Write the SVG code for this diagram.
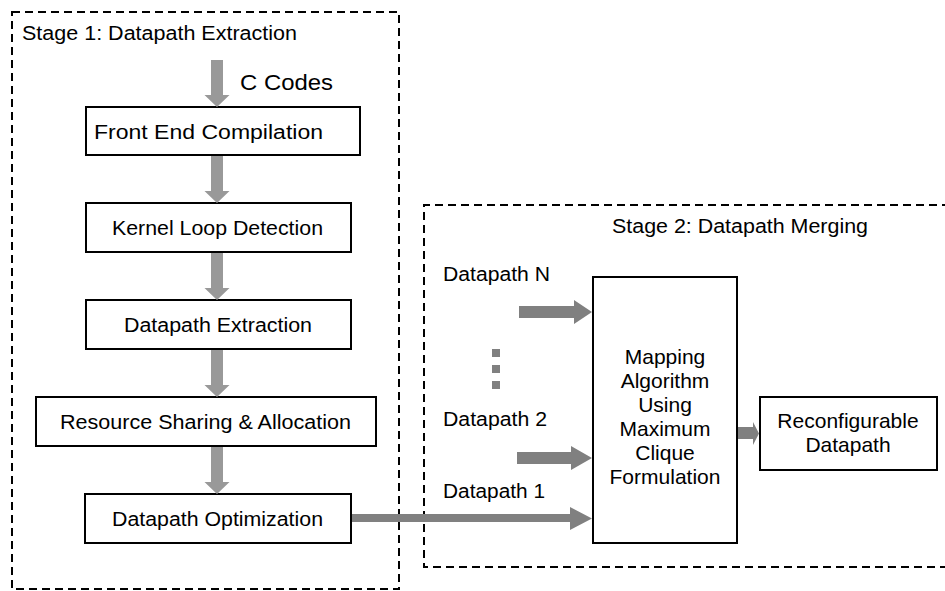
<svg xmlns="http://www.w3.org/2000/svg" width="945" height="591" viewBox="0 0 945 591">
<style>
.stage{fill:none;stroke:#000;stroke-width:2;stroke-dasharray:8 5}
.box{fill:#fff;stroke:#000;stroke-width:2}
.t{font-family:"Liberation Sans",Arial,sans-serif;font-size:20px;fill:#000}
.m{text-anchor:middle;font-size:21px}
.va{fill:#999}
.ha{fill:#808080}
</style>
<rect width="945" height="591" fill="#fff"/>
<g id="stage1">
<rect class="stage" x="12" y="12" width="387" height="577"/>
<text class="t" x="22" y="40" textLength="275" lengthAdjust="spacingAndGlyphs">Stage 1: Datapath Extraction</text>
<text class="t" x="240" y="90" style="font-size:22px" textLength="93" lengthAdjust="spacingAndGlyphs">C Codes</text>
</g>
<g id="stage2">
<path class="stage" d="M950 205 H424 V567 H950"/>
<text class="t" x="612" y="233" textLength="256" lengthAdjust="spacingAndGlyphs">Stage 2: Datapath Merging</text>
<text class="t" x="443" y="281" textLength="107" lengthAdjust="spacingAndGlyphs">Datapath N</text>
<text class="t" x="443" y="426" textLength="104" lengthAdjust="spacingAndGlyphs">Datapath 2</text>
<text class="t" x="443" y="498" textLength="102" lengthAdjust="spacingAndGlyphs">Datapath 1</text>
</g>
<g id="front-end">
<rect class="box" x="86" y="107" width="274" height="48"/>
<text class="t" x="94" y="139" textLength="229" lengthAdjust="spacingAndGlyphs">Front End Compilation</text>
</g>
<g id="kernel-loop">
<rect class="box" x="86" y="203" width="265" height="49"/>
<text class="t" x="112" y="235" textLength="211" lengthAdjust="spacingAndGlyphs">Kernel Loop Detection</text>
</g>
<g id="dp-extraction">
<rect class="box" x="86" y="300" width="265" height="49"/>
<text class="t" x="124" y="332" textLength="188" lengthAdjust="spacingAndGlyphs">Datapath Extraction</text>
</g>
<g id="resource">
<rect class="box" x="36" y="397" width="340" height="49"/>
<text class="t" x="60" y="429" textLength="291" lengthAdjust="spacingAndGlyphs">Resource Sharing &amp; Allocation</text>
</g>
<g id="dp-opt">
<rect class="box" x="85" y="494" width="266" height="49"/>
<text class="t" x="112" y="526" textLength="211" lengthAdjust="spacingAndGlyphs">Datapath Optimization</text>
</g>
<g id="mapping">
<rect class="box" x="593" y="277" width="144" height="266"/>
<text class="t m" x="665" y="364">Mapping</text>
<text class="t m" x="665" y="388">Algorithm</text>
<text class="t m" x="665" y="412">Using</text>
<text class="t m" x="665" y="436">Maximum</text>
<text class="t m" x="665" y="460">Clique</text>
<text class="t m" x="665" y="484">Formulation</text>
</g>
<g id="reconfigurable">
<rect class="box" x="760" y="397" width="177" height="73"/>
<text class="t m" x="848" y="428">Reconfigurable</text>
<text class="t m" x="848" y="452">Datapath</text>
</g>
<g id="connectors">
<polygon class="va" points="211,60 223,60 223,95 229.5,95 217,107 204.5,95 211,95"/>
<polygon class="va" points="211,156 223,156 223,191 229.5,191 217,203 204.5,191 211,191"/>
<polygon class="va" points="211,253 223,253 223,288 229.5,288 217,300 204.5,288 211,288"/>
<polygon class="va" points="211,350 223,350 223,385 229.5,385 217,397 204.5,385 211,385"/>
<polygon class="va" points="211,447 223,447 223,482 229.5,482 217,494 204.5,482 211,482"/>
<polygon class="ha" points="352,514 570,514 570,507 592,518.5 570,530 570,522 352,522"/>
<polygon class="ha" points="519,306 574,306 574,300 592,312 574,324 574,318 519,318"/>
<polygon class="ha" points="517,452 571,452 571,446 592,458 571,470 571,464 517,464"/>
<polygon class="ha" points="738,427 753,427 753,422 759,433.5 753,445 753,439 738,439"/>
<rect class="ha" x="492" y="349" width="8" height="8"/>
<rect class="ha" x="492" y="365" width="8" height="8"/>
<rect class="ha" x="492" y="381" width="8" height="8"/>
</g>
</svg>
